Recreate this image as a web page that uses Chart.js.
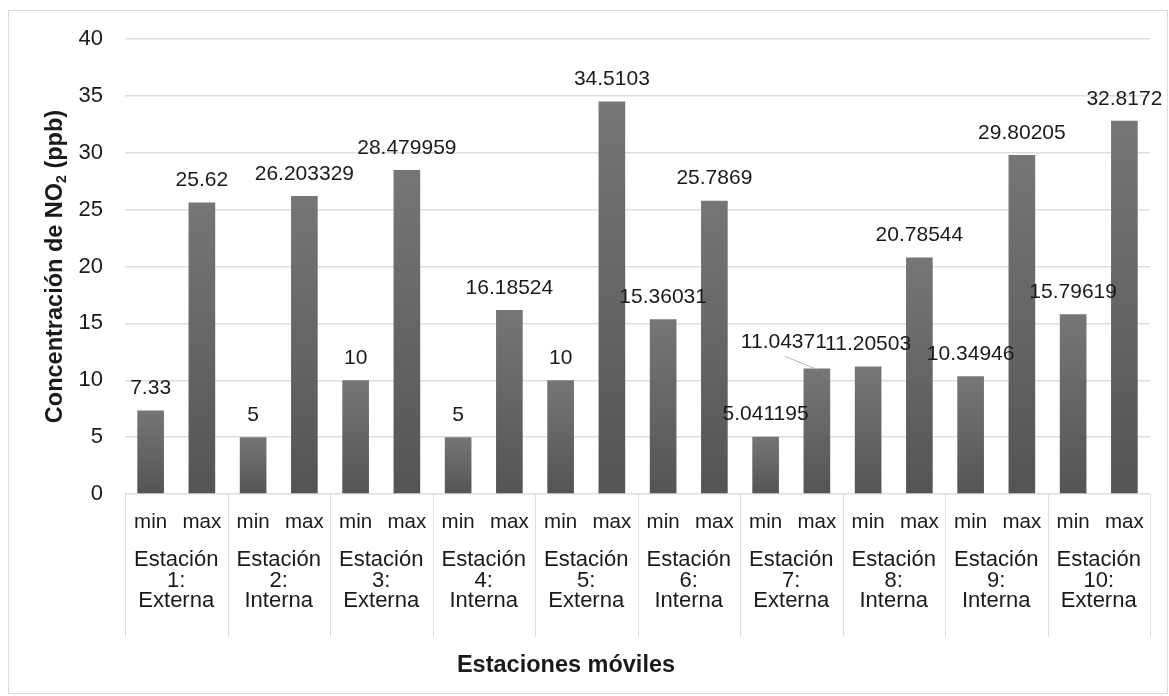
<!DOCTYPE html>
<html>
<head>
<meta charset="utf-8">
<script src="https://cdn.jsdelivr.net/npm/chart.js@4.4.1/dist/chart.umd.min.js"></script>
<style>
  html, body { margin: 0; padding: 0; background: #ffffff; }
  canvas { display: block; }
</style>
</head>
<body>
<canvas id="chart" width="1169" height="696"></canvas>
<script>
// Mobile monitoring stations and NO2 concentration range (ppb)
const stationNames = [
  'Estación 1: Externa', 'Estación 2: Interna', 'Estación 3: Externa',
  'Estación 4: Interna', 'Estación 5: Externa', 'Estación 6: Interna',
  'Estación 7: Externa', 'Estación 8: Interna', 'Estación 9: Interna',
  'Estación 10: Externa'
];
const seriesNames = ['min', 'max'];
const minValues = [7.33, 5, 10, 5, 10, 15.36031, 5.041195, 11.20503, 10.34946, 15.79619];
const maxValues = [25.62, 26.203329, 28.479959, 16.18524, 34.5103, 25.7869, 11.04371, 20.78544, 29.80205, 32.8172];
const yTickValues = [0, 5, 10, 15, 20, 25, 30, 35, 40];
const yTitleParts = ['Concentración de NO', '2', ' (ppb)'];
const xTitle = 'Estaciones móviles';

// Flatten into one bar per (station, min/max)
const categories = [];
const values = [];
stationNames.forEach((s, i) => {
  categories.push(seriesNames[0], seriesNames[1]);
  values.push(minValues[i], maxValues[i]);
});

const FONT = '"Liberation Sans", Arial, sans-serif';
const TEXT = '#1a1a1a';
const LINE = '#d9dee6';

// Data label that sits beside its bar with a leader line
const labelShift = { 13: { dx: -33, dy: -4, leader: true } };

const decorations = {
  id: 'decorations',
  beforeDraw(chart) {
    const ctx = chart.ctx;
    ctx.save();
    ctx.fillStyle = '#ffffff';
    ctx.fillRect(0, 0, chart.width, chart.height);
    ctx.strokeStyle = '#d9dde3';
    ctx.lineWidth = 1;
    ctx.strokeRect(8.5, 10.5, chart.width - 10, chart.height - 13);
    ctx.restore();
  },
  afterDatasetsDraw(chart) {
    const ctx = chart.ctx;
    const meta = chart.getDatasetMeta(0);
    ctx.save();
    ctx.font = '21px ' + FONT;
    ctx.fillStyle = TEXT;
    ctx.textAlign = 'center';
    ctx.textBaseline = 'middle';
    meta.data.forEach((bar, i) => {
      const s = labelShift[i] || { dx: 0, dy: 0 };
      const lx = bar.x + s.dx;
      const ly = bar.y - 22 + s.dy;
      ctx.fillText(String(values[i]), lx, ly);
      if (s.leader) {
        ctx.strokeStyle = '#a8b6c8';
        ctx.lineWidth = 1;
        ctx.beginPath();
        ctx.moveTo(lx + 1, ly + 14);
        ctx.lineTo(bar.x, bar.y + 1);
        ctx.stroke();
      }
    });
    ctx.restore();
  },
  afterDraw(chart) {
    const ctx = chart.ctx;
    const area = chart.chartArea;
    const x = chart.scales.x;
    const n = stationNames.length;
    ctx.save();

    // group separators under the category axis
    ctx.strokeStyle = LINE;
    ctx.lineWidth = 1;
    for (let g = 0; g <= n; g++) {
      let px;
      if (g === 0) px = x.left;
      else if (g === n) px = x.right;
      else px = (x.getPixelForValue(2 * g - 1) + x.getPixelForValue(2 * g)) / 2;
      px = Math.round(px) + 0.5;
      ctx.beginPath();
      ctx.moveTo(px, area.bottom);
      ctx.lineTo(px, area.bottom + 143);
      ctx.stroke();
    }

    // station names (second level of the category axis)
    ctx.fillStyle = TEXT;
    ctx.font = '22px ' + FONT;
    ctx.textAlign = 'center';
    ctx.textBaseline = 'middle';
    stationNames.forEach((name, g) => {
      const cx = (x.getPixelForValue(2 * g) + x.getPixelForValue(2 * g + 1)) / 2;
      name.split(' ').forEach((t, k) => ctx.fillText(t, cx, area.bottom + 66 + 20.5 * k));
    });

    // x axis title
    ctx.font = 'bold 23.5px ' + FONT;
    ctx.fillText(xTitle, 566, area.bottom + 172);

    // y axis title with subscript
    const big = 'bold 23.5px ' + FONT;
    const small = 'bold 14px ' + FONT;
    ctx.font = big;
    const w0 = ctx.measureText(yTitleParts[0]).width;
    const w2 = ctx.measureText(yTitleParts[2]).width;
    ctx.font = small;
    const w1 = ctx.measureText(yTitleParts[1]).width;
    const total = w0 + w1 + w2;
    ctx.translate(56, (area.top + area.bottom) / 2);
    ctx.rotate(-Math.PI / 2);
    ctx.textAlign = 'left';
    let pos = -total / 2;
    ctx.font = big;
    ctx.fillText(yTitleParts[0], pos, 0);
    pos += w0;
    ctx.font = small;
    ctx.fillText(yTitleParts[1], pos, 6);
    pos += w1;
    ctx.font = big;
    ctx.fillText(yTitleParts[2], pos, 0);
    ctx.restore();
  }
};

function barGradient(context) {
  const chart = context.chart;
  const yScale = chart.scales.y;
  if (!chart.chartArea || !yScale || context.raw === undefined) return '#666666';
  const top = yScale.getPixelForValue(context.raw);
  const base = yScale.getPixelForValue(0);
  if (!isFinite(top) || !isFinite(base) || top === base) return '#666666';
  const g = chart.ctx.createLinearGradient(0, top, 0, base);
  g.addColorStop(0, '#767676');
  g.addColorStop(1, '#545454');
  return g;
}

new Chart(document.getElementById('chart'), {
  type: 'bar',
  data: {
    labels: categories,
    datasets: [{
      data: values,
      backgroundColor: barGradient,
      borderWidth: 0,
      barPercentage: 0.52,
      categoryPercentage: 1.0
    }]
  },
  options: {
    responsive: false,
    animation: false,
    devicePixelRatio: 1,
    layout: { padding: { top: 39, left: 0, right: 19, bottom: 0 } },
    plugins: {
      legend: { display: false },
      tooltip: { enabled: false }
    },
    scales: {
      x: {
        grid: { display: false, drawTicks: false },
        border: { display: false },
        ticks: {
          color: TEXT,
          font: { family: FONT, size: 20.5 },
          padding: 16,
          maxRotation: 0,
          autoSkip: false
        },
        afterFit(scale) { scale.height = 202; }
      },
      y: {
        min: 0,
        max: 40,
        afterBuildTicks(scale) { scale.ticks = yTickValues.map(v => ({ value: v })); },
        grid: { color: LINE, lineWidth: 1.5, drawTicks: false },
        border: { display: false },
        ticks: {
          color: TEXT,
          font: { family: FONT, size: 22 },
          padding: 22
        },
        afterFit(scale) { scale.width = 125; }
      }
    }
  },
  plugins: [decorations]
});
</script>
</body>
</html>
